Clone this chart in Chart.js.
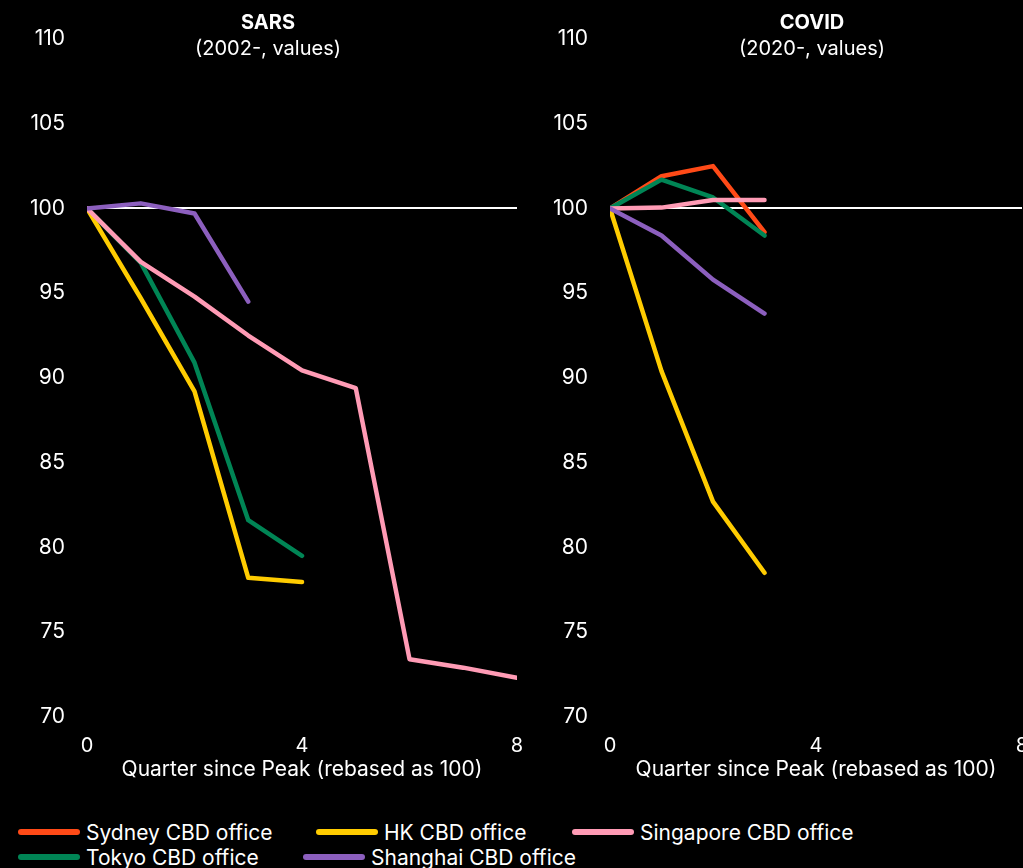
<!DOCTYPE html>
<html>
<head>
<meta charset="utf-8">
<script src="https://cdn.jsdelivr.net/npm/chart.js@4.4.1/dist/chart.umd.min.js"></script>
<style>
  html, body { margin: 0; background: #000; overflow: hidden; width: 1023px; height: 868px; }
  .panel { position: absolute; top: 0; }
  .ttl { position: absolute; top: 9px; color: #fff; font-family: Inter, sans-serif; font-size: 20px; line-height: 26px; text-align: center; }
  .ttl b { font-weight: 700; }
  .lg { position: absolute; height: 24px; display: flex; align-items: center; }
  .sw { width: 62px; height: 6px; border-radius: 3px; margin-right: 6px; }
  .lt { color: #fff; font-family: Inter, sans-serif; font-size: 21px; white-space: nowrap; }
</style>
</head>
<body>
<div class="panel" style="left:0;width:536px;height:782px"><canvas id="sarsChart" width="536" height="782"></canvas></div>
<div class="panel" style="left:523px;width:578px;height:782px"><canvas id="covidChart" width="578" height="782"></canvas></div>
<div class="ttl" style="left:0;width:536px"><b>SARS</b><br>(2002-, values)</div>
<div class="ttl" style="left:523px;width:578px"><b>COVID</b><br>(2020-, values)</div>
<div id="legend"></div>
<script>
// quarters since peak, values rebased to 100 at peak
const quarters = [0, 1, 2, 3, 4, 5, 6, 7, 8];
const xTicks = [0, 4, 8];
const yTicks = [70, 75, 80, 85, 90, 95, 100, 105, 110];

const seriesNames = ["Sydney CBD office", "HK CBD office", "Singapore CBD office", "Tokyo CBD office", "Shanghai CBD office"];
const seriesColors = ["#ff4a17", "#ffcc00", "#ff9bb5", "#008555", "#8c5fbe"];

// SARS (2002-)
const sarsSydney = [];
const sarsHK = [100, 94.7, 89.2, 78.2, 77.95];
const sarsSingapore = [100, 96.85, 94.8, 92.5, 90.45, 89.4, 73.4, 72.9, 72.3];
const sarsTokyo = [100, 96.8, 90.9, 81.6, 79.5];
const sarsShanghai = [100, 100.3, 99.7, 94.5];

// COVID (2020-)
const covidSydney = [100, 101.9, 102.5, 98.6];
const covidHK = [100, 90.4, 82.7, 78.5];
const covidSingapore = [100, 100.05, 100.5, 100.5];
const covidTokyo = [100, 101.7, 100.65, 98.4];
const covidShanghai = [100, 98.4, 95.8, 93.8];

const fontFamily = "Inter, sans-serif";

function toPoints(values) {
  return values.map((v, i) => ({ x: quarters[i], y: v }));
}

function makeDatasets(seriesValues) {
  const sets = [];
  // drawn so that Shanghai ends up on top (first dataset is drawn last)
  const drawOrder = [4, 2, 1, 3, 0];
  drawOrder.forEach((idx) => {
    sets.push({
      label: seriesNames[idx],
      data: toPoints(seriesValues[idx]),
      borderColor: seriesColors[idx],
      backgroundColor: seriesColors[idx],
      borderWidth: 4.5,
      pointRadius: 0,
      tension: 0,
      fill: false,
      borderCapStyle: "round",
      borderJoinStyle: "round",
    });
  });
  return sets;
}

function renderPanel(canvasId, seriesValues, rightPad) {
  const ctx = document.getElementById(canvasId).getContext("2d");
  return new Chart(ctx, {
    type: "line",
    data: { datasets: makeDatasets(seriesValues) },
    options: {
      responsive: false,
      animation: false,
      layout: { padding: { top: 39, right: rightPad, left: 0, bottom: 0 } },
      plugins: {
        legend: { display: false },
        tooltip: { enabled: false },
      },
      scales: {
        x: {
          type: "linear",
          min: 0,
          max: 8,
          afterBuildTicks: (scale) => { scale.ticks = xTicks.map((v) => ({ value: v })); },
          ticks: { color: "#fff", font: { family: fontFamily, size: 20 }, padding: 9, maxRotation: 0 },
          grid: { display: false },
          border: { display: false },
          title: {
            display: true,
            text: "Quarter since Peak (rebased as 100)",
            color: "#fff",
            font: { family: fontFamily, size: 21 },
            padding: { top: -10, bottom: 0 },
          },
        },
        y: {
          min: 70,
          max: 110,
          afterBuildTicks: (scale) => { scale.ticks = yTicks.map((v) => ({ value: v })); },
          afterFit: (scale) => { scale.width = 87; },
          ticks: { color: "#fff", font: { family: fontFamily, size: 21 }, padding: 22 },
          grid: {
            drawTicks: false,
            lineWidth: 2,
            color: (c) => (c.tick && c.tick.value === 100 ? "#ffffff" : "rgba(0,0,0,0)"), // only the 100 baseline
          },
          border: { display: false },
        },
      },
    },
  });
}

renderPanel("sarsChart", [sarsSydney, sarsHK, sarsSingapore, sarsTokyo, sarsShanghai], 19);
renderPanel("covidChart", [covidSydney, covidHK, covidSingapore, covidTokyo, covidShanghai], 79);

// legend, two rows under the panels
const legendSpots = [
  { x: 18, y: 820 }, { x: 316, y: 820 }, { x: 572, y: 820 },
  { x: 18, y: 845 }, { x: 303, y: 845 },
];
const legendEl = document.getElementById("legend");
seriesNames.forEach((name, i) => {
  const item = document.createElement("div");
  item.className = "lg";
  item.style.left = legendSpots[i].x + "px";
  item.style.top = legendSpots[i].y + "px";
  item.innerHTML = '<div class="sw" style="background:' + seriesColors[i] + '"></div><span class="lt">' + name + "</span>";
  legendEl.appendChild(item);
});
</script>
</body>
</html>
